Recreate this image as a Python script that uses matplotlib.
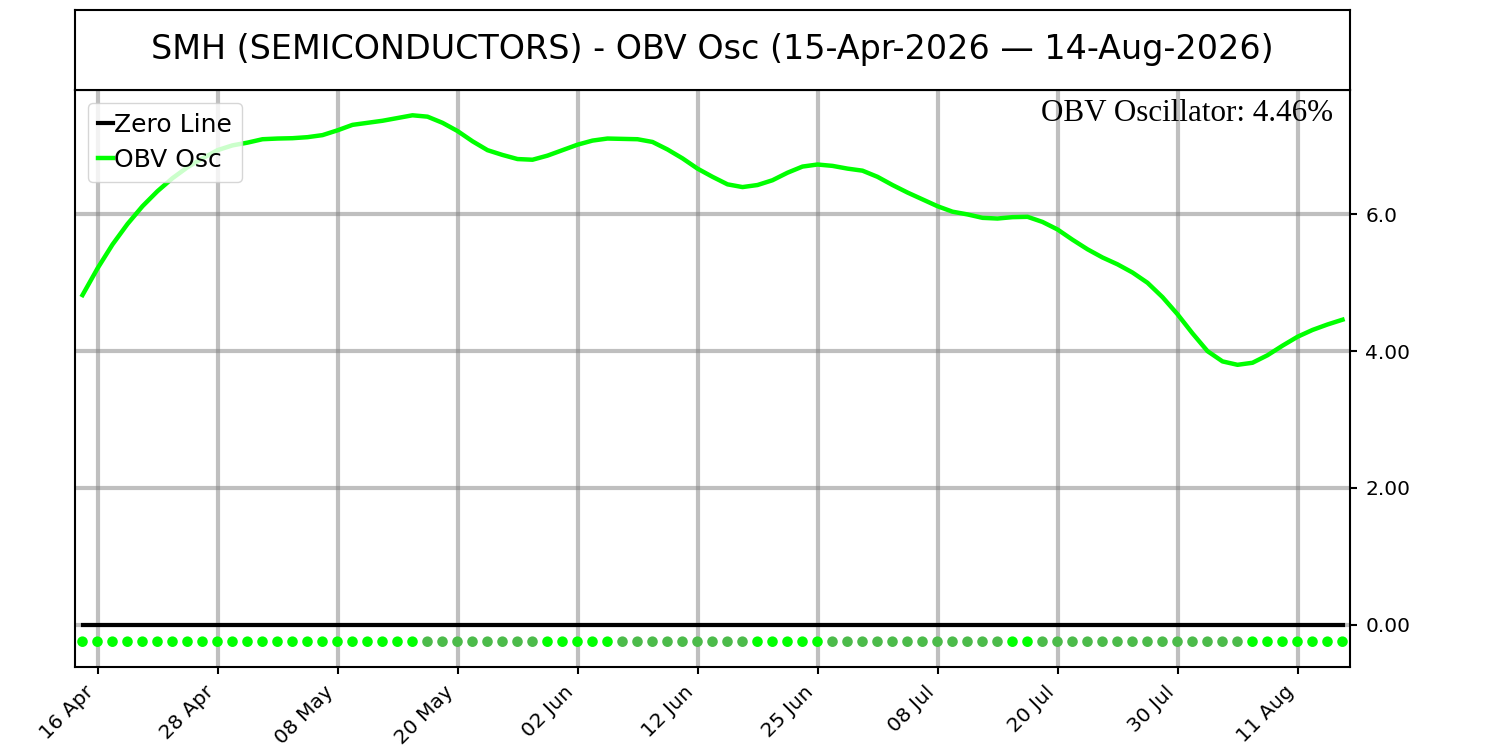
import matplotlib
matplotlib.use("Agg")
import matplotlib.pyplot as plt
import numpy as np

# ---- data ----
obv_osc = [4.82, 5.21, 5.56, 5.86, 6.12, 6.34, 6.53, 6.69, 6.82, 6.94,
           7.01, 7.05, 7.10, 7.11, 7.115, 7.13, 7.16, 7.23, 7.31, 7.34,
           7.37, 7.41, 7.45, 7.43, 7.34, 7.22, 7.07, 6.94, 6.87, 6.81,
           6.80, 6.86, 6.94, 7.02, 7.08, 7.11, 7.105, 7.10, 7.06, 6.95,
           6.82, 6.67, 6.55, 6.44, 6.40, 6.43, 6.50, 6.61, 6.70, 6.73,
           6.71, 6.67, 6.64, 6.55, 6.43, 6.32, 6.22, 6.12, 6.04, 6.00,
           5.95, 5.94, 5.96, 5.965, 5.89, 5.78, 5.63, 5.49, 5.37, 5.27,
           5.15, 5.00, 4.79, 4.54, 4.26, 4.00, 3.85, 3.80, 3.83, 3.94,
           4.08, 4.21, 4.31, 4.39, 4.46]
tick_labels = ["16 Apr", "28 Apr", "08 May", "20 May", "02 Jun", "12 Jun",
               "25 Jun", "08 Jul", "20 Jul", "30 Jul", "11 Aug"]
ytick_values = [0, 2, 4, 6]
ytick_labels = ["0.00", "2.00", "4.00", "6.0"]
title = "SMH (SEMICONDUCTORS) - OBV Osc (15-Apr-2026 \u2014 14-Aug-2026)"
current_text = "OBV Oscillator: 4.46%"
dot_level = -0.25

# ---- derived ----
y = np.array(obv_osc)
x = np.arange(len(y))
diff = np.diff(y, prepend=y[0])
dot_colors = ["#00ff00" if d >= 0 else "#4cbb4a" for d in diff]
tick_pos = x[1::8][:len(tick_labels)]

fig = plt.figure(figsize=(15, 7.5), dpi=100)
ax = fig.add_axes([0.05, 0.1107, 0.85, 0.7693])
tax = fig.add_axes([0.05, 0.88, 0.85, 0.1067])

# title box
tax.set_xticks([])
tax.set_yticks([])
for s in tax.spines.values():
    s.set_linewidth(1.5)
tax.text(0.5, 0.5, title, ha="center", va="center", fontsize=24,
         transform=tax.transAxes)

# main
ax.plot(x, np.zeros_like(y), color="black", lw=3, label="Zero Line", zorder=3)
ax.plot(x, y, color="#00ff00", lw=3.2, label="OBV Osc", zorder=3)
ax.scatter(x, np.full_like(y, dot_level), c=dot_colors, s=58, linewidths=0, zorder=4)

ax.set_xlim(-0.5, len(y) - 0.5)
ax.set_ylim(-0.62, 7.82)
ax.set_xticks(tick_pos)
ax.set_xticklabels(tick_labels, rotation=45, ha="right", fontsize=14.5)
ax.yaxis.tick_right()
ax.set_yticks(ytick_values)
ax.set_yticklabels(ytick_labels, fontsize=14.5)
ax.tick_params(axis="both", length=5, width=1.5)
ax.tick_params(axis="y", pad=6)
ax.tick_params(axis="x", pad=6)
ax.grid(True, color="gray", alpha=0.5, lw=3, zorder=0)
ax.set_axisbelow(True)
for s in ax.spines.values():
    s.set_linewidth(1.5)

ax.legend(loc="upper left", fontsize=18, handlelength=0.6, handletextpad=0.05,
          borderaxespad=0.5, labelspacing=0.45)
ax.text(0.987, 0.985, current_text, transform=ax.transAxes, ha="right", va="top",
        fontsize=22.4, family="Liberation Serif")

fig.savefig("out.png", dpi=100)
